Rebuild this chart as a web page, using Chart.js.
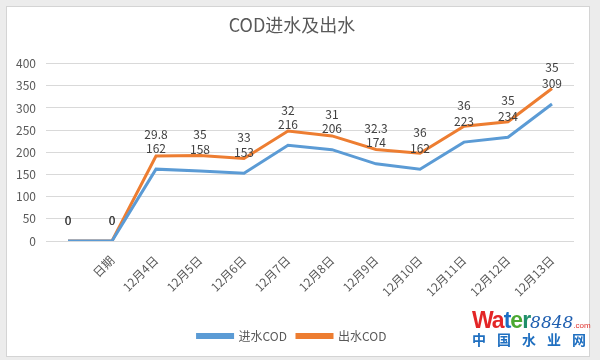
<!DOCTYPE html>
<html>
<head>
<meta charset="utf-8">
<script src="https://cdn.jsdelivr.net/npm/chart.js@4"></script>
<style>
  html, body { margin: 0; padding: 0; background: #ececec; }
  #wrap { position: relative; width: 600px; height: 360px; overflow: hidden; }
  #frame { position: absolute; left: 6px; top: 6px; width: 582px; height: 349px; background: #fff; border: 1px solid #d4d4d4; }
  #c { position: absolute; left: 0; top: 0; }
  #wm { position: absolute; left: 472px; top: 310px; width: 122px; font-family: 'Liberation Sans', Arial, sans-serif; }
  #wm .top { font-weight: bold; font-size: 23px; line-height: 20px; height: 20px; letter-spacing: -1px; white-space: nowrap; }
  #wm .num { font-family: 'DejaVu Serif', serif; font-style: italic; font-weight: normal; color: #1f5fb0; font-size: 17px; letter-spacing: 0; }
  #wm .com { color: #e0302c; font-size: 8px; font-weight: normal; letter-spacing: 0; }
  #wm .cn { font-family: 'Noto Sans CJK SC', sans-serif; font-weight: bold; color: #1f6fc0; font-size: 14px; letter-spacing: 11px; line-height: 16px; height: 16px; margin-top: 1px; white-space: nowrap; }
</style>
</head>
<body>
<div id="wrap">
  <div id="frame"></div>
  <canvas id="c" width="600" height="360"></canvas>
  <div id="wm">
    <div class="top"><span style="color:#e32526">W</span><span style="color:#e32526">a</span><span style="color:#1d6fc4">t</span><span style="color:#4aa832">e</span><span style="color:#1f8f6a">r</span><span class="num">8848</span><span class="com">.com</span></div>
    <div class="cn">中国水业网</div>
  </div>
</div>
<script>
// ── Data ─────────────────────────────────────────────────────
const categories = ['', '日期', '12月4日', '12月5日', '12月6日', '12月7日', '12月8日', '12月9日', '12月10日', '12月11日', '12月12日', '12月13日'];
const inflowCOD  = [0, 0, 162, 158, 153, 216, 206, 174, 162, 223, 234, 309];
const outflowCOD = [0, 0, 29.8, 35, 33, 32, 31, 32.3, 36, 36, 35, 35];
const yTicks     = [0, 50, 100, 150, 200, 250, 300, 350, 400];

const FONT = "'Noto Sans CJK SC', 'Open Sans', sans-serif";
const BLUE = '#5B9BD5';
const ORANGE = '#ED7D31';

// draws value labels above each point (Excel style)
const valueLabels = {
  id: 'valueLabels',
  afterDatasetsDraw(chart) {
    const ctx = chart.ctx;
    ctx.save();
    ctx.font = '12px ' + FONT;
    ctx.fillStyle = '#404040';
    ctx.textAlign = 'center';
    ctx.textBaseline = 'middle';
    chart.data.datasets.forEach((ds, di) => {
      const meta = chart.getDatasetMeta(di);
      meta.data.forEach((pt, i) => {
        ctx.fillText(String(ds.data[i]), pt.x, pt.y - 21);
      });
    });
    ctx.restore();
  }
};

new Chart(document.getElementById('c'), {
  type: 'line',
  data: {
    labels: categories,
    datasets: [
      { label: '进水COD', data: inflowCOD, borderColor: BLUE, backgroundColor: BLUE, borderWidth: 3, pointRadius: 0, tension: 0, fill: false },
      { label: '出水COD', data: outflowCOD, borderColor: ORANGE, backgroundColor: ORANGE, borderWidth: 3, pointRadius: 0, tension: 0, fill: false }
    ]
  },
  options: {
    responsive: false,
    animation: false,
    devicePixelRatio: 1,
    layout: { padding: { left: 10, right: 26, top: 10, bottom: 8 } },
    plugins: {
      title: { display: true, text: 'COD进水及出水', color: '#595959', font: { family: FONT, size: 18, weight: 'normal' }, padding: { top: 4, bottom: 28 } },
      legend: {
        position: 'bottom',
        labels: { color: '#595959', font: { family: FONT, size: 12 }, boxWidth: 35, boxHeight: 3, padding: 10 }
      },
      tooltip: { enabled: false }
    },
    scales: {
      x: {
        offset: true,
        grid: { display: false },
        border: { display: false },
        ticks: { color: '#595959', font: { family: FONT, size: 12 }, minRotation: 45, maxRotation: 45, autoSkip: false, padding: 4 },
        afterFit: s => { s.height = 79; }
      },
      y: {
        stacked: true,
        min: 0, max: 400,
        afterBuildTicks: s => { s.ticks = yTicks.map(v => ({ value: v })); },
        grid: { color: '#d9d9d9', drawTicks: false },
        border: { display: false },
        ticks: { color: '#595959', font: { family: FONT, size: 12 }, padding: 10 },
        afterFit: s => { s.width = 36; }
      }
    }
  },
  plugins: [valueLabels]
});
</script>
</body>
</html>
